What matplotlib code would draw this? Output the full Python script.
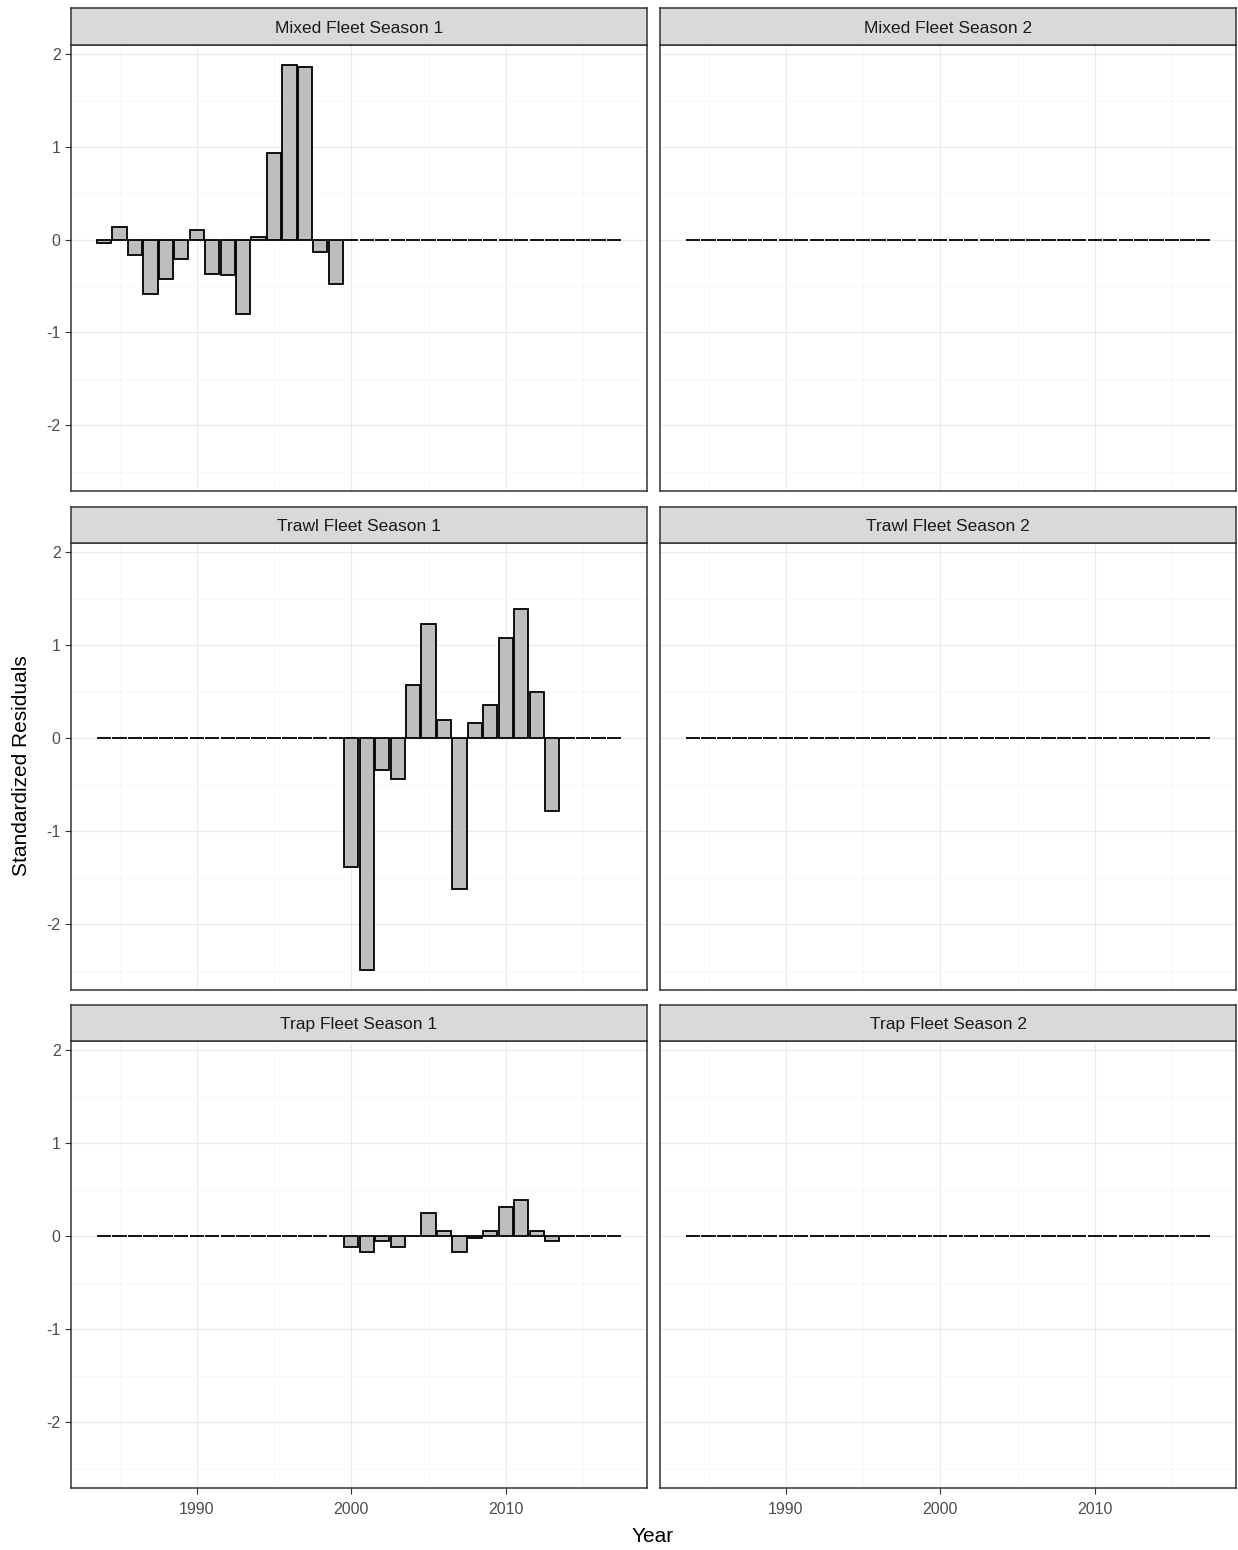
import matplotlib
matplotlib.use("Agg")
import matplotlib.pyplot as plt
import numpy as np

plt.rcParams['font.family'] = ['Liberation Sans', 'DejaVu Sans']
plt.rcParams['axes.unicode_minus'] = False

years = list(range(1984, 2018))

mixed_s1 = [-0.04, 0.14, -0.16, -0.59, -0.42, -0.21, 0.10, -0.37, -0.38, -0.80,
            0.03, 0.93, 1.88, 1.86, -0.13, -0.48] + [0.0] * 18
mixed_s2 = [0.0] * 34
trawl_s1 = [0.0] * 16 + [-1.39, -2.49, -0.34, -0.44, 0.57, 1.23, 0.19, -1.62,
                         0.16, 0.36, 1.08, 1.39, 0.50, -0.78, 0.0, 0.0, 0.0, 0.0]
trawl_s2 = [0.0] * 34
trap_s1 = [0.0] * 16 + [-0.12, -0.17, -0.05, -0.12, 0.0, 0.25, 0.05, -0.17,
                        -0.02, 0.06, 0.31, 0.39, 0.05, -0.05, 0.0, 0.0, 0.0, 0.0]
trap_s2 = [0.0] * 34

panel_titles = ["Mixed Fleet Season 1", "Mixed Fleet Season 2",
                "Trawl Fleet Season 1", "Trawl Fleet Season 2",
                "Trap Fleet Season 1", "Trap Fleet Season 2"]
panel_values = [mixed_s1, mixed_s2, trawl_s1, trawl_s2, trap_s1, trap_s2]

x_ticks = [1990, 2000, 2010]
y_ticks = [-2, -1, 0, 1, 2]

W, H = 1238, 1550
fig = plt.figure(figsize=(W / 100, H / 100), dpi=100)
fig.patch.set_facecolor("white")

col_x = [(71, 647), (660, 1236)]
row_y = [(45, 491, 8), (543, 990, 507), (1041, 1488, 1005)]

allv = np.concatenate([np.array(v) for v in panel_values])
vmin, vmax = allv.min(), allv.max()
yr = vmax - vmin
ylim = (vmin - 0.05 * yr, vmax + 0.05 * yr)
xr = (years[-1] + 0.45) - (years[0] - 0.45)
xlim = (years[0] - 0.45 - 0.05 * xr, years[-1] + 0.45 + 0.05 * xr)

edge_col = "#333333"
for i, (title, vals) in enumerate(zip(panel_titles, panel_values)):
    r, c = divmod(i, 2)
    x0, x1 = col_x[c]
    y0, y1, ys = row_y[r]
    ax = fig.add_axes([x0 / W, 1 - y1 / H, (x1 - x0) / W, (y1 - y0) / H])
    ax.set_xlim(*xlim)
    ax.set_ylim(*ylim)
    ax.set_xticks(x_ticks)
    ax.set_yticks(y_ticks)
    ax.set_xticks([1985, 1995, 2005, 2015], minor=True)
    ax.set_yticks([-2.5, -1.5, -0.5, 0.5, 1.5], minor=True)
    ax.grid(True, which="major", color="#EBEBEB", linewidth=0.8)
    ax.grid(True, which="minor", color="#F5F5F5", linewidth=0.5)
    ax.set_axisbelow(True)
    ax.bar(years, vals, width=0.92, color="#BEBEBE", edgecolor="black", linewidth=1.3, zorder=3)
    for s in ax.spines.values():
        s.set_color(edge_col)
        s.set_linewidth(1.1)
    ax.tick_params(which="minor", length=0)
    ax.tick_params(which="major", length=4, color=edge_col, labelsize=11.5,
                   labelcolor="#4D4D4D", width=0.8)
    ax.tick_params(axis="x", which="major", pad=6)
    if c != 0:
        ax.tick_params(axis="y", which="major", length=0, labelleft=False)
    if r != 2:
        ax.tick_params(axis="x", which="major", length=0, labelbottom=False)
    # strip
    sax = fig.add_axes([x0 / W, 1 - y0 / H, (x1 - x0) / W, (y0 - ys) / H])
    sax.set_xticks([]); sax.set_yticks([])
    sax.set_facecolor("#D9D9D9")
    for s in sax.spines.values():
        s.set_color(edge_col)
        s.set_linewidth(1.1)
    sax.text(0.5, 0.45, title, ha="center", va="center", fontsize=12.5,
             color="#1A1A1A", transform=sax.transAxes)

fig.text(22 / W, 1 - 766 / H, "Standardized Residuals", rotation=90,
         ha="center", va="center", fontsize=15, color="black")
fig.text(653 / W, 1 - 1537 / H, "Year", ha="center", va="center",
         fontsize=15, color="black")

fig.savefig("out.png", dpi=100, facecolor="white")
